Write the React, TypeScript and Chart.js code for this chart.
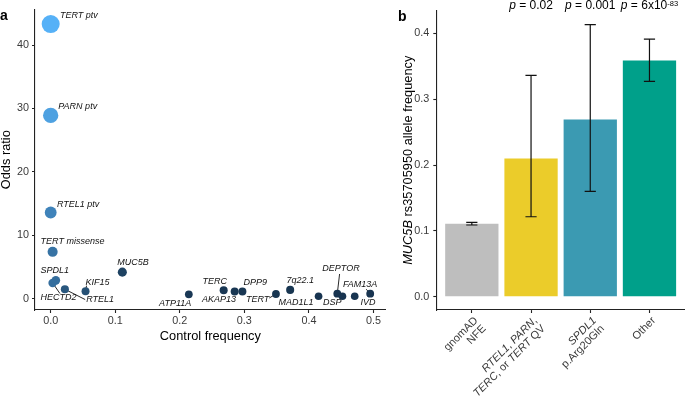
import React, { useEffect, useRef } from "react";
import { Chart, registerables } from "chart.js";

Chart.register(...registerables);

const FONT = '"Liberation Sans", Arial, Helvetica, sans-serif';
const AXIS = "#222222";
const TICK_TEXT = "#3A3A3A";

// ---------- Panel a: odds ratio vs control frequency ----------
const geneLabels = [
  "TERT ptv", "PARN ptv", "RTEL1 ptv", "TERT missense", "SPDL1", "HECTD2", "RTEL1",
  "KIF15", "MUC5B", "ATP11A", "TERC", "AKAP13", "DPP9", "TERT", "7q22.1", "MAD1L1",
  "DEPTOR", "DSP", "IVD", "FAM13A",
];
const controlFreq = [
  0.0, 0.0, 0.0, 0.003, 0.008, 0.003, 0.022, 0.054, 0.111, 0.214, 0.268, 0.285,
  0.297, 0.349, 0.371, 0.415, 0.444, 0.452, 0.471, 0.495,
];
const oddsRatio = [
  43.3, 28.9, 13.6, 7.4, 2.9, 2.5, 1.5, 1.2, 4.2, 0.7, 1.35, 1.15, 1.15, 0.75, 1.4,
  0.4, 0.8, 0.4, 0.4, 0.8,
];
// value mapped onto the colour gradient (0 = dark navy, 1 = light blue)
const colorScore = [
  1.0, 0.88, 0.66, 0.54, 0.5, 0.5, 0.33, 0.28, 0.17, 0.1, 0.1, 0.09, 0.09, 0.08, 0.08,
  0.07, 0.07, 0.07, 0.07, 0.07,
];
const xTicksA = [0, 0.1, 0.2, 0.3, 0.4, 0.5];
const yTicksA = [0, 10, 20, 30, 40];

// label placement (pixels relative to the point), like ggrepel output
const labelOffsets: [number, number][] = [
  [9.3, -8.4], [7.6, -8.7], [6.3, -7.7], [-12, -10], [-15.3, -10], [-12, 14.6],
  [21.3, 10.3], [0, -8.7], [-5, -9.3], [-29.7, 8.7], [-21.3, -8.3], [-32.7, 8],
  [1, -8.6], [-30, 5.3], [-3.7, -9], [-40, 6.7], [-15, -25.4], [-19.4, 6.4],
  [5.7, 6.4], [-27.3, -9.4],
];
const segmentEnds: ([number, number] | null)[] = [
  null, null, null, null, null, [7.3, 10.6], [20.3, 10.3], [1, -5.5], null, null,
  null, null, null, [-6.7, 4], null, null, [2.3, -19.7], null, null, [-4, -4.5],
];

// ---------- Panel b: MUC5B allele frequency ----------
type Seg = [string, boolean];
const groupLabels: Seg[][][] = [
  [[["gnomAD", false]], [["NFE", false]]],
  [
    [["RTEL1", true], [", ", false], ["PARN", true], [",", false]],
    [["TERC", true], [", or ", false], ["TERT", true], [" QV", false]],
  ],
  [[["SPDL1", true]], [["p.Arg20Gln", false]]],
  [[["Other", false]]],
];
const alleleFreq = [0.111, 0.21, 0.269, 0.3585];
const ciLow = [0.109, 0.1215, 0.16, 0.327];
const ciHigh = [0.113, 0.336, 0.413, 0.391];
const pValues = ["", "0.02", "0.001", "6x10"];
const pExponents = ["", "", "", "-83"];
const yTicksB = [0, 0.1, 0.2, 0.3, 0.4];
const barColors = ["#BEBEBE", "#EBCC2A", "#3B9AB2", "#00A08A"];

const LOW = [19, 43, 67];
const HIGH = [86, 177, 247];
function gradient(t: number) {
  const c = LOW.map((l, i) => Math.round(l + (HIGH[i] - l) * t));
  return `rgb(${c[0]},${c[1]},${c[2]})`;
}
function radiusFor(or: number) {
  return Math.sqrt(14 + 1.55 * or);
}

function drawSegs(
  ctx: CanvasRenderingContext2D,
  segs: Seg[],
  x: number,
  y: number,
  align: "left" | "center" | "right",
  size: number,
  color: string
) {
  const fonts = segs.map(([, it]) => `${it ? "italic " : ""}normal ${size}px ${FONT}`);
  const widths = segs.map(([t], i) => {
    ctx.font = fonts[i];
    return ctx.measureText(t).width;
  });
  const total = widths.reduce((a, b) => a + b, 0);
  let cx = align === "left" ? x : align === "center" ? x - total / 2 : x - total;
  ctx.textAlign = "left";
  ctx.fillStyle = color;
  segs.forEach(([t], i) => {
    ctx.font = fonts[i];
    ctx.fillText(t, cx, y);
    cx += widths[i];
  });
}

const W = 685;
const H = 401;
const WA = 395;
const WB = W - WA;

const axisCommon = {
  grid: {
    display: true,
    drawOnChartArea: false,
    drawTicks: true,
    tickLength: 3,
    tickWidth: 1.1,
    tickColor: AXIS,
    offset: false,
  },
  border: { display: true, color: AXIS, width: 1.1 },
};

const panelAPlugin = {
  id: "panelA",
  beforeDatasetsDraw(chart: any) {
    const ctx = chart.ctx as CanvasRenderingContext2D;
    const meta = chart.getDatasetMeta(0);
    ctx.save();
    ctx.strokeStyle = "#111";
    ctx.lineWidth = 0.9;
    meta.data.forEach((pt: any, i: number) => {
      const s = segmentEnds[i];
      if (!s) return;
      ctx.beginPath();
      ctx.moveTo(pt.x, pt.y);
      ctx.lineTo(pt.x + s[0], pt.y + s[1]);
      ctx.stroke();
    });
    ctx.restore();
  },
  afterDatasetsDraw(chart: any) {
    const ctx = chart.ctx as CanvasRenderingContext2D;
    const meta = chart.getDatasetMeta(0);
    ctx.save();
    ctx.textBaseline = "middle";
    ctx.textAlign = "left";
    ctx.fillStyle = "#111";
    ctx.font = `italic normal 9px ${FONT}`;
    meta.data.forEach((pt: any, i: number) => {
      const o = labelOffsets[i];
      ctx.fillText(geneLabels[i], pt.x + o[0], pt.y + o[1]);
    });
    ctx.restore();
  },
  afterDraw(chart: any) {
    const ctx = chart.ctx as CanvasRenderingContext2D;
    const a = chart.chartArea;
    ctx.save();
    ctx.fillStyle = "#000";
    ctx.textBaseline = "alphabetic";
    ctx.font = `normal normal 12.8px ${FONT}`;
    ctx.textAlign = "center";
    ctx.fillText("Control frequency", (a.left + a.right) / 2, 339.5);
    ctx.translate(9.7, (a.top + a.bottom) / 2);
    ctx.rotate(-Math.PI / 2);
    ctx.fillText("Odds ratio", 0, 0);
    ctx.restore();
    ctx.save();
    ctx.fillStyle = "#000";
    ctx.font = `normal bold 14px ${FONT}`;
    ctx.textAlign = "left";
    ctx.textBaseline = "alphabetic";
    ctx.fillText("a", 0, 20);
    ctx.restore();
  },
};

const panelBPlugin = {
  id: "panelB",
  afterDatasetsDraw(chart: any) {
    const ctx = chart.ctx as CanvasRenderingContext2D;
    const xs = chart.scales.x;
    const ys = chart.scales.y;
    ctx.save();
    ctx.strokeStyle = "#111";
    ctx.lineWidth = 1.2;
    alleleFreq.forEach((_, i) => {
      const x = xs.getPixelForValue(i);
      const yl = ys.getPixelForValue(ciLow[i]);
      const yh = ys.getPixelForValue(ciHigh[i]);
      const hw = 5.6;
      ctx.beginPath();
      ctx.moveTo(x, yl);
      ctx.lineTo(x, yh);
      ctx.moveTo(x - hw, yl);
      ctx.lineTo(x + hw, yl);
      ctx.moveTo(x - hw, yh);
      ctx.lineTo(x + hw, yh);
      ctx.stroke();
    });
    ctx.restore();
  },
  afterDraw(chart: any) {
    const ctx = chart.ctx as CanvasRenderingContext2D;
    const a = chart.chartArea;
    const xs = chart.scales.x;
    ctx.save();
    // rotated category labels
    ctx.textBaseline = "top";
    groupLabels.forEach((lines, i) => {
      const x = xs.getPixelForValue(i);
      ctx.save();
      ctx.translate(x + 0.5, a.bottom + 5);
      ctx.rotate(-Math.PI / 4);
      lines.forEach((segs, j) => {
        drawSegs(ctx, segs, 0, j * 11.5, "right", 11, TICK_TEXT);
      });
      ctx.restore();
    });
    // p-values
    ctx.textBaseline = "alphabetic";
    pValues.forEach((p, i) => {
      if (!p) return;
      const x = xs.getPixelForValue(i);
      const segs: Seg[] = [["p", true], [" = " + p, false]];
      ctx.font = `normal normal 12px ${FONT}`;
      const w = ctx.measureText("p = " + p).width;
      const ex = pExponents[i];
      let ew = 0;
      if (ex) {
        ctx.font = `normal normal 7.5px ${FONT}`;
        ew = ctx.measureText(ex).width;
      }
      const left = x - (w + ew) / 2;
      drawSegs(ctx, segs, left, 9, "left", 12, "#000");
      if (ex) {
        ctx.font = `normal normal 7.5px ${FONT}`;
        ctx.fillStyle = "#000";
        ctx.textAlign = "left";
        ctx.fillText(ex, left + w, 6.3);
      }
    });
    // y title
    ctx.save();
    ctx.textBaseline = "alphabetic";
    ctx.translate(16.5, (a.top + a.bottom) / 2);
    ctx.rotate(-Math.PI / 2);
    drawSegs(
      ctx,
      [["MUC5B", true], [" rs35705950 allele frequency", false]],
      0,
      0,
      "center",
      12.8,
      "#000"
    );
    ctx.restore();
    // panel letter
    ctx.fillStyle = "#000";
    ctx.font = `normal bold 14px ${FONT}`;
    ctx.textAlign = "left";
    ctx.fillText("b", 3, 20.5);
    ctx.restore();
  },
};

export default function App() {
  const refA = useRef<HTMLCanvasElement>(null);
  const refB = useRef<HTMLCanvasElement>(null);

  useEffect(() => {
    Chart.defaults.font.family = FONT;
    const chartA = new Chart(refA.current as HTMLCanvasElement, {
      type: "scatter",
      data: {
        datasets: [
          {
            data: controlFreq.map((x, i) => ({ x, y: oddsRatio[i] })),
            pointRadius: (c: any) => radiusFor(oddsRatio[c.dataIndex] ?? 1),
            pointBackgroundColor: (c: any) => gradient(colorScore[c.dataIndex] ?? 0),
            pointBorderWidth: 0,
            pointBorderColor: "rgba(0,0,0,0)",
          } as any,
        ],
      },
      options: {
        animation: false,
        responsive: false,
        maintainAspectRatio: false,
        events: [],
        layout: { padding: { top: 7, right: WA - 385.7, left: 0, bottom: 0 } },
        plugins: { legend: { display: false }, tooltip: { enabled: false } },
        scales: {
          x: {
            type: "linear",
            min: -0.0243,
            max: 0.519,
            afterBuildTicks: (s: any) => {
              s.ticks = xTicksA.map((v) => ({ value: v }));
            },
            afterFit: (s: any) => {
              s.height = H - 310;
            },
            ticks: {
              callback: (v: any) => Number(v).toFixed(1),
              font: { size: 10.8, family: FONT },
              color: TICK_TEXT,
              padding: 2,
              maxRotation: 0,
              autoSkip: false,
            },
            ...axisCommon,
          },
          y: {
            type: "linear",
            min: -1.77,
            max: 45.6,
            afterBuildTicks: (s: any) => {
              s.ticks = yTicksA.map((v) => ({ value: v }));
            },
            afterFit: (s: any) => {
              s.width = 35;
            },
            ticks: {
              callback: (v: any) => String(v),
              font: { size: 10.8, family: FONT },
              color: TICK_TEXT,
              padding: 3,
              autoSkip: false,
            },
            ...axisCommon,
          },
        },
      } as any,
      plugins: [panelAPlugin],
    });

    const chartB = new Chart(refB.current as HTMLCanvasElement, {
      type: "bar",
      data: {
        datasets: [
          {
            data: alleleFreq.map((y, i) => ({ x: i, y })),
            backgroundColor: barColors,
            borderWidth: 0,
            barPercentage: 0.9,
            categoryPercentage: 1,
          } as any,
        ],
      },
      options: {
        animation: false,
        responsive: false,
        maintainAspectRatio: false,
        events: [],
        layout: { padding: { top: 7, right: 0, left: 0, bottom: 0 } },
        plugins: { legend: { display: false }, tooltip: { enabled: false } },
        scales: {
          x: {
            type: "linear",
            min: -0.6,
            max: 3.6,
            offset: false,
            afterBuildTicks: (s: any) => {
              s.ticks = groupLabels.map((_, i) => ({ value: i }));
            },
            afterFit: (s: any) => {
              s.height = H - 310;
            },
            ticks: { callback: () => "", autoSkip: false, maxRotation: 0 },
            ...axisCommon,
          },
          y: {
            type: "linear",
            min: -0.02,
            max: 0.4346,
            afterBuildTicks: (s: any) => {
              s.ticks = yTicksB.map((v) => ({ value: v }));
            },
            afterFit: (s: any) => {
              s.width = 436.3 - WA;
            },
            ticks: {
              callback: (v: any) => Number(v).toFixed(1),
              font: { size: 10.8, family: FONT },
              color: TICK_TEXT,
              padding: 4,
              autoSkip: false,
            },
            ...axisCommon,
          },
        },
      } as any,
      plugins: [panelBPlugin],
    });

    return () => {
      chartA.destroy();
      chartB.destroy();
    };
  }, []);

  return (
    <div
      style={{
        position: "absolute",
        left: 0,
        top: 0,
        width: W,
        height: H,
        background: "#fff",
        overflow: "hidden",
      }}
    >
      <canvas
        ref={refA}
        width={WA}
        height={H}
        style={{ position: "absolute", left: 0, top: 0, width: WA, height: H }}
      />
      <canvas
        ref={refB}
        width={WB}
        height={H}
        style={{ position: "absolute", left: WA, top: 0, width: WB, height: H }}
      />
    </div>
  );
}
